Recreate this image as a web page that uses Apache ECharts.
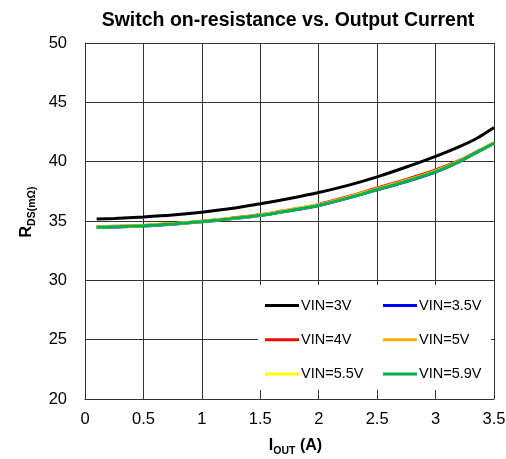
<!DOCTYPE html>
<html>
<head>
<meta charset="utf-8">
<script src="https://cdn.jsdelivr.net/npm/echarts@6/dist/echarts.min.js"></script>
<style>
html,body{margin:0;padding:0;background:#fff;overflow:hidden;}
#chart{width:506px;height:459px;}
</style>
</head>
<body>
<div id="chart"></div>
<script>
var currents = [0.1, 0.25, 0.5, 0.75, 1.0, 1.25, 1.5, 1.75, 2.0, 2.25, 2.5, 2.75, 3.0, 3.2, 3.35, 3.5];
var vin3V   = [35.17, 35.22, 35.34, 35.50, 35.74, 36.05, 36.45, 36.90, 37.40, 38.00, 38.72, 39.55, 40.45, 41.25, 41.95, 42.88];
var vin3p5V = [34.45, 34.50, 34.58, 34.73, 34.93, 35.18, 35.46, 35.86, 36.31, 36.93, 37.63, 38.33, 39.13, 39.98, 40.76, 41.53];
var vin4V   = [34.50, 34.55, 34.63, 34.78, 34.98, 35.24, 35.53, 35.94, 36.40, 37.05, 37.78, 38.50, 39.30, 40.08, 40.82, 41.58];
var vin5V   = [34.49, 34.54, 34.62, 34.77, 34.97, 35.22, 35.51, 35.92, 36.37, 37.00, 37.72, 38.43, 39.23, 40.05, 40.80, 41.57];
var vin5p5V = [34.48, 34.53, 34.61, 34.76, 34.96, 35.21, 35.49, 35.90, 36.35, 36.97, 37.68, 38.38, 39.18, 40.02, 40.79, 41.56];
var vin5p9V = [34.47, 34.52, 34.60, 34.75, 34.95, 35.20, 35.48, 35.88, 36.33, 36.95, 37.65, 38.35, 39.15, 40.00, 40.78, 41.55];

var seriesNames = ['VIN=3V', 'VIN=3.5V', 'VIN=4V', 'VIN=5V', 'VIN=5.5V', 'VIN=5.9V'];
var seriesValues = [vin3V, vin3p5V, vin4V, vin5V, vin5p5V, vin5p9V];
var seriesColors = ['#000000', '#0000ff', '#ff0000', '#ffb000', '#ffff00', '#00b050'];

function pairs(vals) {
  return currents.map(function (c, i) { return [c, vals[i]]; });
}

var chart = echarts.init(document.getElementById('chart'), null, { width: 506, height: 459 });
var FONT = '"Liberation Sans", Arial, sans-serif';

var series = seriesNames.map(function (n, i) {
  return {
    name: n,
    type: 'line',
    data: pairs(seriesValues[i]),
    smooth: 0.3,
    showSymbol: false,
    symbol: 'none',
    lineStyle: { color: seriesColors[i], width: 3 },
    itemStyle: { color: seriesColors[i] },
    z: 2 + i
  };
});

var richName = {
  a: { fontFamily: FONT, fontSize: 16, fontWeight: 'bold', color: '#000', verticalAlign: 'bottom', lineHeight: 18 },
  b: { fontFamily: FONT, fontSize: 10.5, fontWeight: 'bold', color: '#000', verticalAlign: 'bottom', lineHeight: 18, padding: [0, 0, -3, 0] }
};

var legendCommon = {
  orient: 'vertical', top: 298, padding: 0,
  icon: 'rect', itemWidth: 34, itemHeight: 3, itemGap: 19.3, z: 60,
  textStyle: { fontFamily: FONT, fontSize: 14.5, lineHeight: 14, height: 14, color: '#000', padding: [0, 0, 0, -3] }
};

chart.setOption({
  animation: false,
  backgroundColor: '#ffffff',
  title: {
    text: 'Switch on-resistance vs. Output Current',
    left: 283, top: 6, textAlign: 'center',
    textStyle: { fontFamily: FONT, fontSize: 19.5, fontWeight: 'bold', color: '#000' }
  },
  grid: { left: 85, right: 12, top: 43, bottom: 60, containLabel: false, outerBoundsMode: 'none' },
  xAxis: {
    type: 'value', min: 0, max: 3.5, interval: 0.5,
    name: '{a|I}{b|OUT}{a| (A)}',
    nameLocation: 'middle', nameGap: 37,
    nameTextStyle: { fontFamily: FONT, color: '#000', padding: [0, 0, 0, 12], rich: richName },
    axisLine: { show: true, lineStyle: { color: '#333333', width: 1 } },
    axisTick: { show: false },
    axisLabel: { margin: 12, fontFamily: FONT, fontSize: 16.5, color: '#000' },
    splitLine: { show: true, lineStyle: { color: '#333333', width: 1 } }
  },
  yAxis: {
    type: 'value', min: 20, max: 50, interval: 5,
    name: '{a|R}{b|DS(mΩ)}',
    nameLocation: 'middle', nameGap: 49, nameRotate: 90,
    nameTextStyle: { fontFamily: FONT, color: '#000', padding: [0, 0, 0, 18], rich: richName },
    axisLine: { show: true, lineStyle: { color: '#333333', width: 1 } },
    axisTick: { show: false },
    axisLabel: { margin: 18, fontFamily: FONT, fontSize: 16.5, color: '#000' },
    splitLine: { show: true, lineStyle: { color: '#333333', width: 1 } }
  },
  graphic: [{
    type: 'rect', z: 50,
    shape: { x: 258, y: 285, width: 233, height: 105 },
    style: { fill: '#ffffff', stroke: null }
  }],
  legend: [
    Object.assign({ data: [seriesNames[0], seriesNames[2], seriesNames[4]], left: 265 }, legendCommon),
    Object.assign({ data: [seriesNames[1], seriesNames[3], seriesNames[5]], left: 383 }, legendCommon)
  ],
  series: series
});
</script>
</body>
</html>
